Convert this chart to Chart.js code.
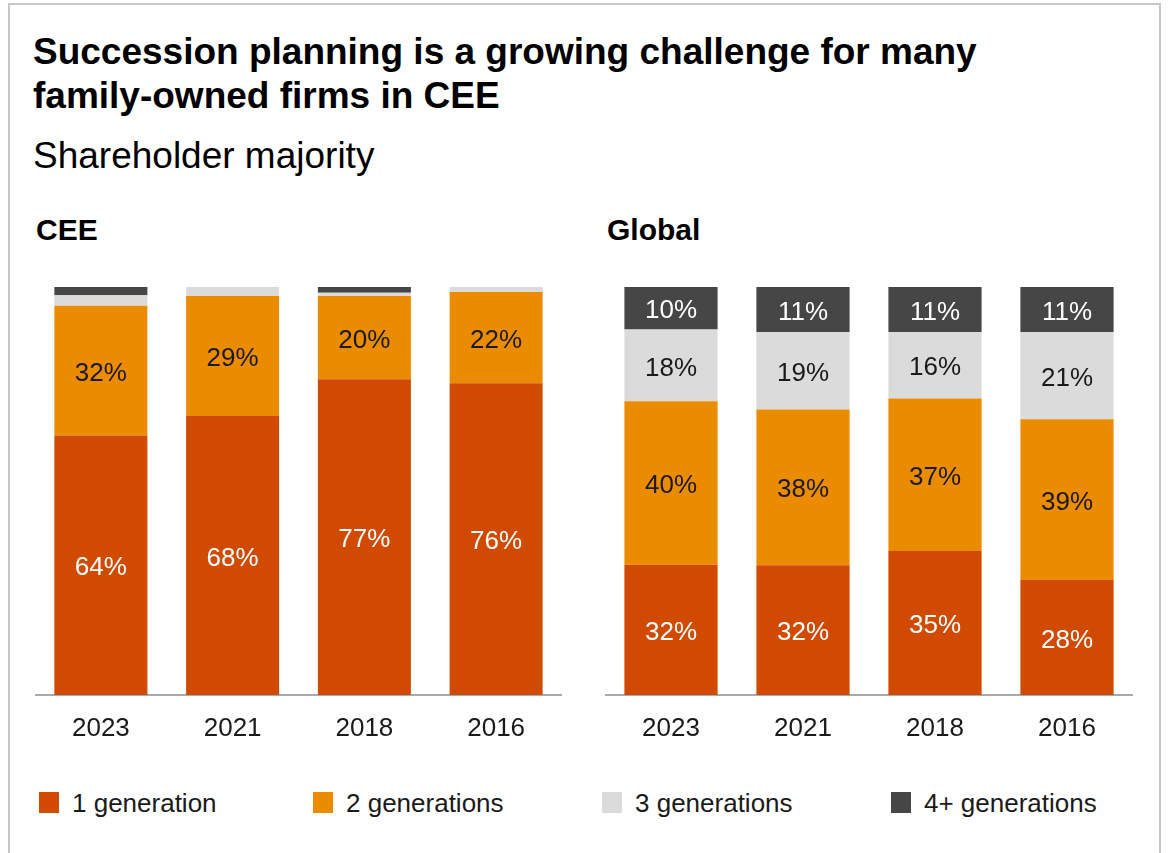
<!DOCTYPE html>
<html>
<head>
<meta charset="utf-8">
<script src="https://cdn.jsdelivr.net/npm/chart.js@4.4.1/dist/chart.umd.min.js"></script>
<style>
  body { margin:0; background:#fff; font-family:"Liberation Sans", Arial, sans-serif; width:1173px; height:853px; overflow:hidden; position:relative; color:#000; }
  .frame { position:absolute; left:8px; top:3px; width:1153px; height:900px; border:2px solid #c8c8c8; box-sizing:border-box; }
  .title { position:absolute; left:33px; top:30px; font-size:37px; font-weight:bold; line-height:44px; }
  .subtitle { position:absolute; left:33px; top:134px; font-size:37px; line-height:44px; }
  .panel { position:absolute; top:212px; font-size:30px; font-weight:bold; line-height:36px; }
  .legend { position:absolute; top:790px; font-size:26px; line-height:26px; color:#1a1a1a; }
  .legend span.box { position:absolute; left:0; top:2px; width:20px; height:21px; }
  .legend span.txt { position:absolute; left:33px; top:0; white-space:nowrap; }
  canvas { position:absolute; }
</style>
</head>
<body>
<div class="frame"></div>
<div class="title">Succession planning is a growing challenge for many<br>family-owned firms in CEE</div>
<div class="subtitle">Shareholder majority</div>
<div class="panel" style="left:36px">CEE</div>
<div class="panel" style="left:607px">Global</div>

<canvas id="ceeChart" style="left:35px;top:287px;width:527px;height:463px"></canvas>
<canvas id="globalChart" style="left:605px;top:287px;width:528px;height:463px"></canvas>

<div id="legend"></div>

<script>
var years = ['2023', '2021', '2018', '2016'];
var seriesNames = ['1 generation', '2 generations', '3 generations', '4+ generations'];
var colors = ['#D04A02', '#EB8C00', '#DBDBDB', '#464646'];
var labelColors = ['#ffffff', '#1a1a1a', '#1a1a1a', '#ffffff'];

// CEE
var cee1 = [63.6, 68.4, 77.4, 76.4];
var cee2 = [31.8, 29.4, 20.4, 22.4];
var cee3 = [2.6, 2.2, 0.8, 1.2];
var cee4 = [2.0, 0, 1.4, 0];

// Global
var glob1 = [31.9, 31.8, 35.3, 28.2];
var glob2 = [40.1, 38.2, 37.4, 39.4];
var glob3 = [17.6, 19.0, 16.3, 21.4];
var glob4 = [10.4, 11.0, 11.0, 11.0];

var segLabels = {
  id: 'segLabels',
  afterDatasetsDraw(chart) {
    var ctx = chart.ctx;
    ctx.save();
    ctx.font = '26px "Liberation Sans", Arial, sans-serif';
    ctx.textAlign = 'center';
    ctx.textBaseline = 'middle';
    chart.data.datasets.forEach(function(ds, i) {
      var meta = chart.getDatasetMeta(i);
      meta.data.forEach(function(bar, j) {
        var v = ds.data[j];
        if (v < 5) return;
        ctx.fillStyle = labelColors[i];
        ctx.fillText(Math.round(v) + '%', bar.x, (bar.y + bar.base) / 2 + 3);
      });
    });
    ctx.restore();
  }
};

function createChart(canvasId, values) {
  return new Chart(canvasId, {
    type: 'bar',
    data: {
      labels: years,
      datasets: values.map(function(d, i) {
        return { label: seriesNames[i], data: d, backgroundColor: colors[i],
                 categoryPercentage: 1, barPercentage: 0.706 };
      })
    },
    options: {
      responsive: false,
      animation: false,
      layout: { padding: 0 },
      plugins: { legend: { display: false }, tooltip: { enabled: false } },
      scales: {
        x: {
          stacked: true,
          grid: { display: true, drawOnChartArea: false, drawTicks: false, color: 'rgba(0,0,0,0)' },
          border: { display: true, color: '#aaaaaa', width: 2 },
          ticks: { color: '#1a1a1a', padding: 18, font: { size: 26, family: '"Liberation Sans", Arial, sans-serif' } },
          afterFit: function(s) { s.height = 55; }
        },
        y: { stacked: true, min: 0, max: 100, display: false }
      }
    },
    plugins: [segLabels]
  });
}

document.getElementById('ceeChart').width = 527;
document.getElementById('ceeChart').height = 463;
document.getElementById('globalChart').width = 528;
document.getElementById('globalChart').height = 463;

createChart('ceeChart', [cee1, cee2, cee3, cee4]);
createChart('globalChart', [glob1, glob2, glob3, glob4]);

// legend
var legendX = [39, 313, 602, 891];
var lg = document.getElementById('legend');
seriesNames.forEach(function(name, i) {
  var d = document.createElement('div');
  d.className = 'legend';
  d.style.left = legendX[i] + 'px';
  d.innerHTML = '<span class="box" style="background:' + colors[i] + '"></span><span class="txt">' + name + '</span>';
  lg.appendChild(d);
});
</script>
</body>
</html>
